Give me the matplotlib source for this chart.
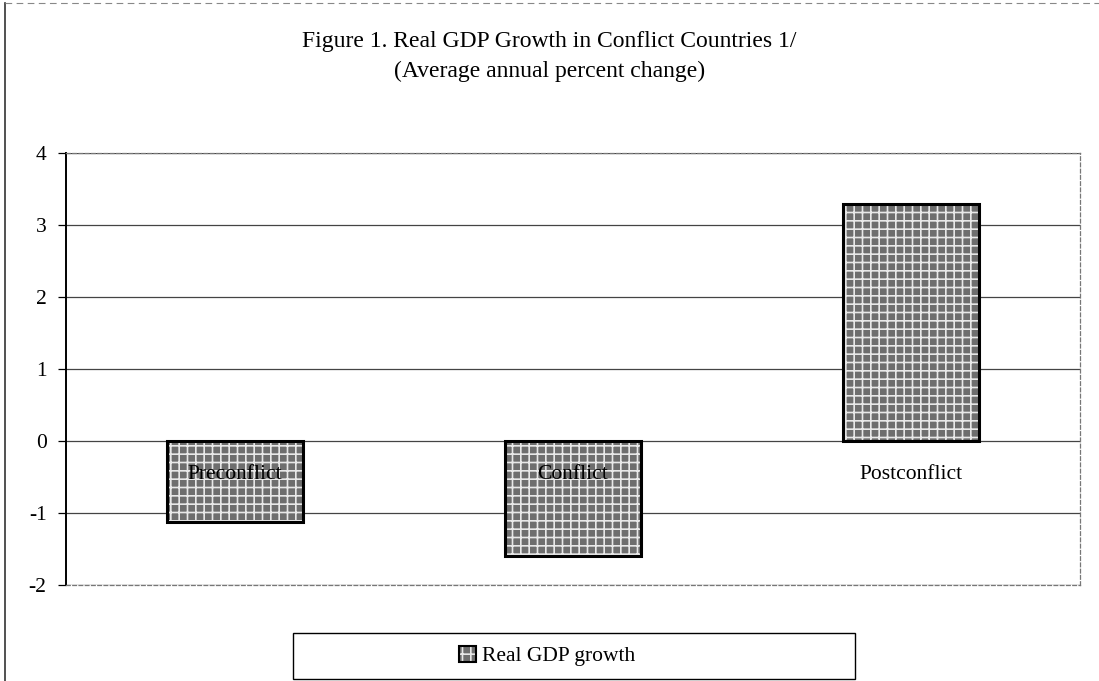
import matplotlib.pyplot as plt
import matplotlib.patches as mpatches
import matplotlib.lines as mlines
from matplotlib.legend_handler import HandlerTuple
import numpy as np

plt.rcParams['font.family'] = ['Liberation Serif', 'DejaVu Serif']
plt.rcParams['hatch.linewidth'] = 1.2

# data
categories = ['Preconflict', 'Conflict', 'Postconflict']
growth = [-1.12, -1.6, 3.29]
yticks = [-2, -1, 0, 1, 2, 3, 4]

fig = plt.figure(figsize=(10.99, 6.81), dpi=100)
ax = fig.add_axes([66/1099, 1 - 585/681, (1080-66)/1099, (585-153)/681])

x = np.arange(len(categories))
# grey fill with white cross hatch, then black outline on top
ax.bar(x, growth, width=0.405, color='#6e6e6e', edgecolor='#e8e8e8', hatch='++', linewidth=0, zorder=2)
ax.bar(x, growth, width=0.405, color='none', edgecolor='black', linewidth=2.2, zorder=3)

for i, lab in enumerate(categories):
    ax.text(x[i], -0.46, lab, ha='center', va='center', fontsize=15.5, zorder=4)

ax.set_xlim(-0.5, 2.5)
ax.set_ylim(-2, 4)
ax.set_yticks(yticks)
ax.set_yticklabels([str(v) for v in yticks], fontsize=15.5)
ax.set_xticks([])
ax.grid(axis='y', color='#444444', linewidth=0.9, zorder=1)
for side in ['top', 'right', 'bottom']:
    ax.spines[side].set_color('#777777')
    ax.spines[side].set_linestyle((0, (3, 2)))
    ax.spines[side].set_linewidth(0.9)
ax.spines['left'].set_linewidth(1.4)
ax.tick_params(axis='y', length=6, width=0.9, pad=8)

fig.text(0.5, 1 - 41/681, 'Figure 1. Real GDP Growth in Conflict Countries 1/', ha='center', va='center', fontsize=17)
fig.text(0.5, 1 - 71/681, '(Average annual percent change)', ha='center', va='center', fontsize=17)

# legend box
h_fill = mpatches.Patch(facecolor='#6e6e6e', edgecolor='#e8e8e8', hatch='++', linewidth=0)
h_edge = mpatches.Patch(facecolor='none', edgecolor='black', linewidth=1.5)
fig.legend(handles=[(h_fill, h_edge)], labels=['Real GDP growth'], loc='center',
           bbox_to_anchor=(547/1099, 1 - 656/681), fontsize=15.5, frameon=False,
           handlelength=0.8, handleheight=0.8, handletextpad=0.3,
           handler_map={tuple: HandlerTuple(ndivide=1, pad=0)})
fig.patches.append(mpatches.Rectangle((293/1099, 1 - 679/681), (855-293)/1099, (679-633)/681,
                                      transform=fig.transFigure, fill=False, edgecolor='black', linewidth=1))

# outer frame: left edge and faint top edge
fig.lines.append(mlines.Line2D([5/1099, 5/1099], [0, 1 - 3/681], transform=fig.transFigure,
                               color='#333333', linewidth=1.2))
fig.lines.append(mlines.Line2D([5/1099, 1], [1 - 3/681, 1 - 3/681], transform=fig.transFigure,
                               color='#888888', linewidth=0.8, linestyle=(0, (6, 4))))

fig.savefig('out.png', dpi=100)
